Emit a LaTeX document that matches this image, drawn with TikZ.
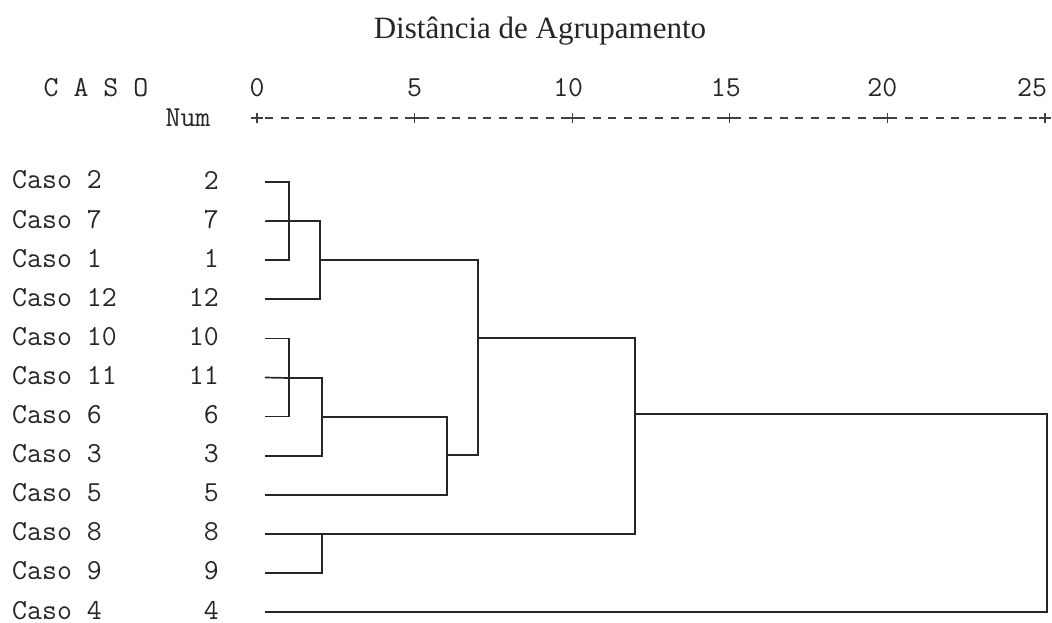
\documentclass[tikz,border=0pt]{standalone}
\usepackage{fontspec}
\setmainfont{Liberation Serif}
\usetikzlibrary{positioning}

\tikzset{
  caso/.style={font=\ttfamily\fontsize{29}{32}\selectfont, text=black!85, inner sep=0pt},
  ramo/.style={line width=1.7pt, draw=black!85},
  eixo/.style={line width=1.1pt, draw=black!75}
}

\begin{document}
\begin{tikzpicture}[x=1pt,y=-1pt]
\useasboundingbox (0,0) rectangle (1052,622);

\node[text=black!85] (titulo) at (540,31) {\fontsize{31}{34}\selectfont Distância de Agrupamento};

\node[caso] (casotit) at (96,88) {C A S O};
\node[caso] (numtit) at (188,118) {Num};

% eixo de distancias
\draw[eixo, dash pattern=on 8pt off 7.6pt] (265,118) -- (1040,118);
\foreach \k/\dx [count=\j from 0] in {0/0,5/0,10/-4,15/-4,20/-5,25/-13} {
  \coordinate (t\k) at ({257+157.6*\j},118);
  \node[caso] (n\k) at ({257+157.6*\j+\dx},88) {\k};
  \draw[eixo] ([xshift=-6pt]t\k) -- ([xshift=6pt]t\k);
  \draw[eixo] ([yshift=-5pt]t\k) -- ([yshift=5pt]t\k);
}

\foreach \c [count=\i from 0] in {2,7,1,12,10,11,6,3,5,8,9,4} {
  \node[caso, anchor=west] (nome\c) at (12,{180+39.1*\i}) {Caso \c};
  \node[caso, anchor=east] (num\c) at (219,{180+39.1*\i}) {\c};
  \coordinate (f\c) at (265,{182+39.1*\i});
}

\coordinate (c1) at (289,221);
\coordinate (c2) at (320,260);
\coordinate (c3) at (289,378);
\coordinate (c4) at (322,417);
\coordinate (c5) at (447,455);
\coordinate (c6) at (478,338);
\coordinate (c7) at (322,534);
\coordinate (c8) at (635,414);
\coordinate (c9) at (1047,414);

\draw[ramo] (f2) -| (c1) |- (f1);
\draw[ramo] (f7) -- (c1);
\draw[ramo] (c1) -| (c2) |- (f12);
\draw[ramo] (f10) -| (c3) |- (f6);
\draw[ramo] (f11) -- (c3);
\draw[ramo] (c3) -| (c4) |- (f3);
\draw[ramo] (c4) -| (c5) |- (f5);
\draw[ramo] (c2) -| (c6) |- (c5);
\draw[ramo] (f9) -| (c7);
\draw[ramo] (f8) -| (c8) |- (c6);
\draw[ramo] (c8) -| (c9) |- (f4);
\end{tikzpicture}
\end{document}
